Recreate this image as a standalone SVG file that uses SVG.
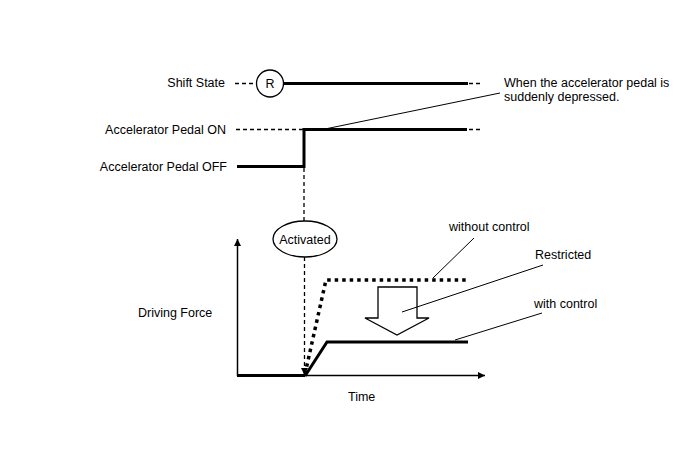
<svg xmlns="http://www.w3.org/2000/svg" width="688" height="463" viewBox="0 0 688 463">
<defs>
<style>
text{font-family:"Liberation Sans",Arial,sans-serif;font-size:12.5px;fill:#000}
.r{text-anchor:end}
.thick{stroke:#000;stroke-width:3;fill:none}
.thin{stroke:#000;stroke-width:1;fill:none}
.dash{stroke:#000;stroke-width:1.3;fill:none;stroke-dasharray:4 3}
.dot{stroke:#000;stroke-width:3.5;fill:none;stroke-dasharray:3.5 4}
.axis{stroke:#000;stroke-width:1.5;fill:none}
</style>
<marker id="ah" viewBox="0 0 10 10" refX="10" refY="5" markerWidth="10" markerHeight="7" markerUnits="userSpaceOnUse" orient="auto">
<path d="M0,0 L10,5 L0,10 z" fill="#000"/>
</marker>
<marker id="ah2" viewBox="0 0 10 10" refX="10" refY="5" markerWidth="9" markerHeight="7" markerUnits="userSpaceOnUse" orient="auto">
<path d="M0,0 L10,5 L0,10 z" fill="#000"/>
</marker>
</defs>
<rect width="688" height="463" fill="#fff"/>

<g id="labels">
<text class="r" x="225" y="87">Shift State</text>
<text class="r" x="226" y="133.5">Accelerator Pedal ON</text>
<text class="r" x="227" y="171">Accelerator Pedal OFF</text>
<text x="504" y="87">When the accelerator pedal is</text>
<text x="504" y="101">suddenly depressed.</text>
<text x="138" y="317">Driving Force</text>
<text x="348" y="401">Time</text>
<text x="449" y="231">without control</text>
<text x="535" y="259">Restricted</text>
<text x="534" y="308">with control</text>
</g>

<g id="node-R">
<circle cx="270" cy="83.5" r="13.5" fill="#fff" stroke="#000" stroke-width="1.3"/>
<text x="270" y="88" text-anchor="middle">R</text>
</g>

<g id="node-activated">
<ellipse cx="305" cy="239" rx="32" ry="18" fill="#fff" stroke="#000" stroke-width="1.3"/>
<text x="305" y="243.5" text-anchor="middle">Activated</text>
</g>

<g id="node-block-arrow">
<path d="M378,287 L417,287 L417,318 L429,318 L397,335 L365,318 L378,318 Z" fill="#fff" stroke="#000" stroke-width="1.3"/>
</g>

<g id="connectors">
<!-- shift state -->
<line class="dash" x1="235" y1="83.5" x2="256" y2="83.5"/>
<line class="thick" x1="283.5" y1="83.5" x2="468" y2="83.5"/>
<line class="dash" x1="469" y1="83.5" x2="483" y2="83.5"/>
<!-- pedal -->
<line class="dash" x1="236" y1="129.5" x2="303" y2="129.5"/>
<polyline class="thick" points="237,166.5 304,166.5 304,129.5 467,129.5"/>
<line class="dash" x1="469" y1="129.5" x2="483" y2="129.5"/>
<line class="dash" x1="304" y1="168" x2="304" y2="221"/>
<!-- leader for pedal -->
<line class="thin" x1="325" y1="129" x2="500" y2="93"/>
<!-- activated arrow -->
<line class="dash" x1="304.5" y1="257" x2="304.5" y2="375" marker-end="url(#ah2)"/>
<!-- axes -->
<line class="axis" x1="237.5" y1="376" x2="237.5" y2="239" marker-end="url(#ah)"/>
<line class="axis" x1="237" y1="375.5" x2="485" y2="375.5" marker-end="url(#ah)"/>
<!-- baseline -->
<line class="thick" x1="237" y1="375.5" x2="305" y2="375.5"/>
<!-- without control -->
<polyline class="dot" points="305,374 326,280 468,280"/>
<!-- with control -->
<polyline class="thick" points="305,376 327,342 468,342"/>
<!-- leaders -->
<line class="thin" x1="474" y1="238" x2="433" y2="278"/>
<line class="thin" x1="543" y1="265" x2="402" y2="312"/>
<line class="thin" x1="542" y1="313" x2="455" y2="340"/>
</g>
</svg>
